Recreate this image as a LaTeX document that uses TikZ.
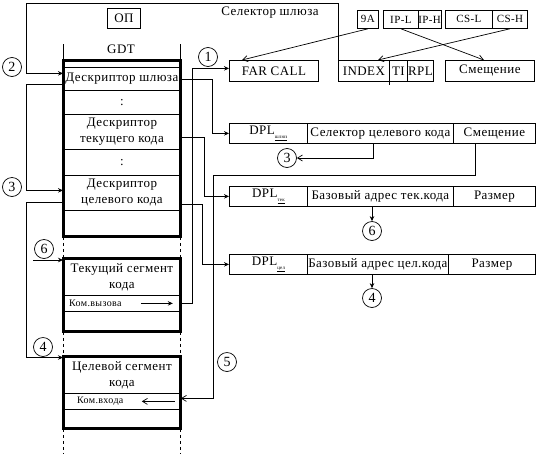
\documentclass[tikz,border=0pt]{standalone}
\usepackage{fontspec}
\setmainfont[LetterSpace=3.5]{Liberation Serif}
\usetikzlibrary{arrows.meta,calc}
\begin{document}
\begin{tikzpicture}[x=1pt,y=-1pt,
  every node/.style={font=\fontsize{13}{16}\selectfont, inner sep=0pt},
  cell/.style={draw, line width=0.8pt, anchor=north west, align=center},
  smallf/.style={font=\fontsize{11}{12}\selectfont},
  num/.style={draw, circle, minimum size=19pt, inner sep=0pt, line width=0.7pt, font=\fontsize{14}{14}\selectfont},
  garr/.style={-{Stealth[length=5pt,width=4.5pt]}, line width=0.8pt},
  oarr/.style={-{Straight Barb[length=5pt,width=6pt]}, line width=0.7pt},
  thick box/.style={line width=3pt}]
\useasboundingbox (0,0) rectangle (543,453);
\newcommand{\dplsub}[1]{DPL\raisebox{-4pt}{\fontsize{5}{5}\selectfont\underline{#1}}}

% ---------- labels at top ----------
\node[cell, minimum width=33pt, minimum height=20pt] (op) at (107,8) {ОП};
\node (selgate) at (270,13) {Селектор шлюза};
\node (gdt) at (121,49) {GDT};

% ---------- GDT ----------
\node[cell, minimum width=117pt, minimum height=7pt] (g0) at (63,60) {};
\node[cell, minimum width=117pt, minimum height=23pt] (gate) at (63,67) {Дескриптор шлюза};
\node[cell, minimum width=117pt, minimum height=24pt] (d1) at (63,90) {:};
\node[cell, minimum width=117pt, minimum height=35pt] (cur) at (63,114) {Дескриптор\\текущего кода};
\node[cell, minimum width=117pt, minimum height=26pt] (d2) at (63,149) {:};
\node[cell, minimum width=117pt, minimum height=35pt] (tgt) at (63,175) {Дескриптор\\целевого кода};
\node[cell, minimum width=117pt, minimum height=26pt] (g6) at (63,210) {};
\draw[thick box] (g0.north west) rectangle (g6.south east);
\draw[line width=0.8pt] (g0.north west) -- ++(0,-16);
\draw[line width=0.8pt] (g0.north east) -- ++(0,-16);

% ---------- current code segment ----------
\node[cell, minimum width=117pt, minimum height=37pt] (ctitle) at (63,258) {Текущий сегмент\\кода};
\node[cell, minimum width=117pt, minimum height=16pt] (call) at (63,295) {};
\node[cell, minimum width=117pt, minimum height=20pt] (cblank) at (63,311) {};
\draw[thick box] (ctitle.north west) rectangle (cblank.south east);
\node[anchor=west, font=\fontsize{10}{11}\selectfont] (calltxt) at ([xshift=6pt]call.west) {Ком.вызова};

% ---------- target code segment ----------
\node[cell, minimum width=117pt, minimum height=37pt] (ttitle) at (63,356) {Целевой сегмент\\кода};
\node[cell, minimum width=117pt, minimum height=16pt] (entry) at (63,393) {};
\node[cell, minimum width=117pt, minimum height=19pt] (tblank) at (63,409) {};
\draw[thick box] (ttitle.north west) rectangle (tblank.south east);
\node[anchor=west, font=\fontsize{10}{11}\selectfont] (entrytxt) at ([xshift=14pt]entry.west) {Ком.входа};

% ---------- dashed continuation ----------
\draw[dashed, line width=0.7pt] (g6.south west) -- (ctitle.north west);
\draw[dashed, line width=0.7pt] (g6.south east) -- (ctitle.north east);
\draw[dashed, line width=0.7pt] (cblank.south west) -- (ttitle.north west);
\draw[dashed, line width=0.7pt] (cblank.south east) -- (ttitle.north east);
\draw[dashed, line width=0.7pt] (tblank.south west) -- ++(0,25);
\draw[dashed, line width=0.7pt] (tblank.south east) -- ++(0,25);

% ---------- top right boxes ----------
\node[cell, smallf, minimum width=21pt, minimum height=18pt] (a9) at (357,10) {9A};
\node[cell, smallf, minimum width=35pt, minimum height=18pt] (ipl) at (383,10) {IP-L};
\node[cell, smallf, minimum width=21pt, minimum height=18pt] (iph) at (418,10) {IP-H};
\node[cell, smallf, minimum width=47pt, minimum height=18pt] (csl) at (445,10) {CS-L};
\node[cell, smallf, minimum width=35pt, minimum height=18pt] (csh) at (492,10) {CS-H};

\node[cell, minimum width=89pt, minimum height=21pt] (far) at (229,60) {FAR CALL};
\node[cell, minimum width=51pt, minimum height=21pt] (index) at (338,60) {INDEX};
\node[cell, minimum width=18pt, minimum height=21pt] (ti) at (389,60) {TI};
\node[cell, minimum width=26pt, minimum height=21pt] (rpl) at (407,60) {RPL};
\node[cell, minimum width=89pt, minimum height=21pt] (sm0) at (445,60) {Смещение};
\draw[line width=0.7pt] (ti.south west) -- ++(0,3);

% ---------- descriptor rows ----------
\node[cell, minimum width=78pt, minimum height=20pt] (dpl1) at (229,123) {\dplsub{шлюз}};
\node[cell, minimum width=146pt, minimum height=20pt] (sel1) at (307,123) {Селектор целевого кода};
\node[cell, minimum width=82pt, minimum height=20pt] (sm1) at (453,123) {Смещение};

\node[cell, minimum width=78pt, minimum height=20pt] (dpl2) at (229,186) {\dplsub{тек}};
\node[cell, minimum width=146pt, minimum height=20pt] (base2) at (307,186) {Базовый адрес тек.кода};
\node[cell, minimum width=82pt, minimum height=20pt] (size2) at (453,186) {Размер};

\node[cell, minimum width=78pt, minimum height=20pt] (dpl3) at (229,254) {\dplsub{цел}};
\node[cell, minimum width=141pt, minimum height=20pt] (base3) at (307,254) {Базовый адрес цел.кода};
\node[cell, minimum width=87pt, minimum height=20pt] (size3) at (448,254) {Размер};

% ---------- numbered circles ----------
\node[num] (c1) at (208,57) {1};
\node[num] (c2) at (12,67) {2};
\node[num] (c3a) at (12,187) {3};
\node[num] (c6a) at (44,249) {6};
\node[num] (c4a) at (43,347) {4};
\node[num] (c3b) at (287,158) {3};
\node[num] (c6b) at (372,231) {6};
\node[num] (c4b) at (372,298) {4};
\node[num] (c5) at (227,362) {5};

% ---------- connectors ----------
\coordinate (topL) at (26,3);
\draw[garr] (index.north west) |- (topL) |- ([yshift=5.5pt]gate.west);
\draw[garr] ([yshift=-5.5pt]gate.west) -- ++(-37,0) |- ([yshift=2.5pt]tgt.west);
\draw[garr] ([yshift=-9.5pt]tgt.west) -- ++(-37,0) |- ([yshift=-1.5pt]ttitle.north west);
\coordinate (s6) at (33,260);
\draw[garr] (s6) -- (s6 -| ctitle.west);

\draw[garr] (call.east) -- ++(12,0) |- ([yshift=2.5pt]far.west);
\draw[garr] (gate.east) -- ++(32,0) |- (dpl1.west);
\draw[garr] ([yshift=-5.5pt]cur.east) -- ++(24,0) |- (dpl2.west);
\draw[garr] ([yshift=-11.5pt]tgt.east) -- ++(22,0) |- (dpl3.west);

\coordinate (k5) at (213,175);
\draw[oarr] ([xshift=-19pt]sm1.south) |- (k5) |- ([yshift=3pt]entry.east);
\draw[oarr] ([xshift=-7pt]sel1.south) |- (c3b.east);
\draw[garr] (c6b.north |- base2.south) -- (c6b.north);
\draw[garr] (c4b.north |- base3.south) -- (c4b.north);

\draw[oarr] (a9.south) -- ([xshift=13pt]far.north west);
\draw[oarr] (ipl.south) -- ([xshift=-6pt]sm0.north);
\draw[oarr] (csh.south) -- ([xshift=40pt]index.north west);

\draw[garr] ([xshift=-40pt]call.east) -- ([xshift=-8pt]call.east);
\draw[oarr] ([xshift=-6pt]entry.east) -- ([xshift=-39pt]entry.east);
\end{tikzpicture}
\end{document}
